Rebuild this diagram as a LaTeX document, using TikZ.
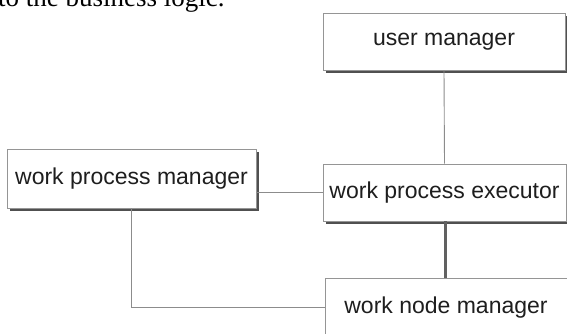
\documentclass[tikz,border=0pt]{standalone}
\usepackage{fontspec}
\setmainfont{Liberation Sans}
\newfontfamily\serifpart{Liberation Serif}
\usetikzlibrary{backgrounds,calc}
\definecolor{boxline}{HTML}{959595}
\definecolor{boxshadow}{HTML}{505050}
\definecolor{wire}{HTML}{8C8C8C}
\definecolor{ink}{HTML}{1E1E1E}
\tikzset{
  module/.style={draw=boxline, line width=0.9pt, fill=white, text=ink,
    inner sep=0pt, font=\fontsize{23}{26}\selectfont},
  shade box/.style={fill=boxshadow},
  link/.style={draw=wire, line width=0.9pt},
  thicklink/.style={draw=boxshadow!90, line width=2.2pt}
}
\begin{document}
\begin{tikzpicture}[x=1pt, y=-1pt]
  \useasboundingbox (0,0) rectangle (567,333);
  \clip (0,0) rectangle (567,333);

  % running text above the diagram
  \node[anchor=base west, inner sep=0pt, font=\serifpart\fontsize{27}{30}\selectfont]
    (caption) at (-2,6) {to the business logic.};

  % modules
  \node[module, minimum width=242pt, minimum height=57pt] (um) at (444,41.5) {user manager};
  \node[module, minimum width=249pt, minimum height=59pt] (wpm) at (131.5,178.5) {work process manager};
  \node[module, minimum width=243pt, minimum height=57pt] (wpe) at (444.5,192.5) {work process executor};
  \node[module, minimum width=242pt, minimum height=59pt] (wnm) at (446,307.5) {work node manager};

  % drop shadows behind the upper three modules
  \begin{scope}[on background layer]
    \foreach \m in {um,wpm,wpe}
      \fill[shade box] ($(\m.north west)+(3,3)$) rectangle ($(\m.south east)+(2.5,2.5)$);
  \end{scope}

  % connections
  \coordinate (corner) at (wpm.south |- wnm.west);
  \draw[link] (um.south) -- (wpe.north);
  \draw[link] (wpm.east |- 0,192) -- (wpe.west |- 0,192);
  \draw[link] (wpm.south) -- (corner) -- (wnm.west);
  \draw[thicklink] (wpe.south -| 445.5,0) -- (wnm.north -| 445.5,0);
\end{tikzpicture}
\end{document}
